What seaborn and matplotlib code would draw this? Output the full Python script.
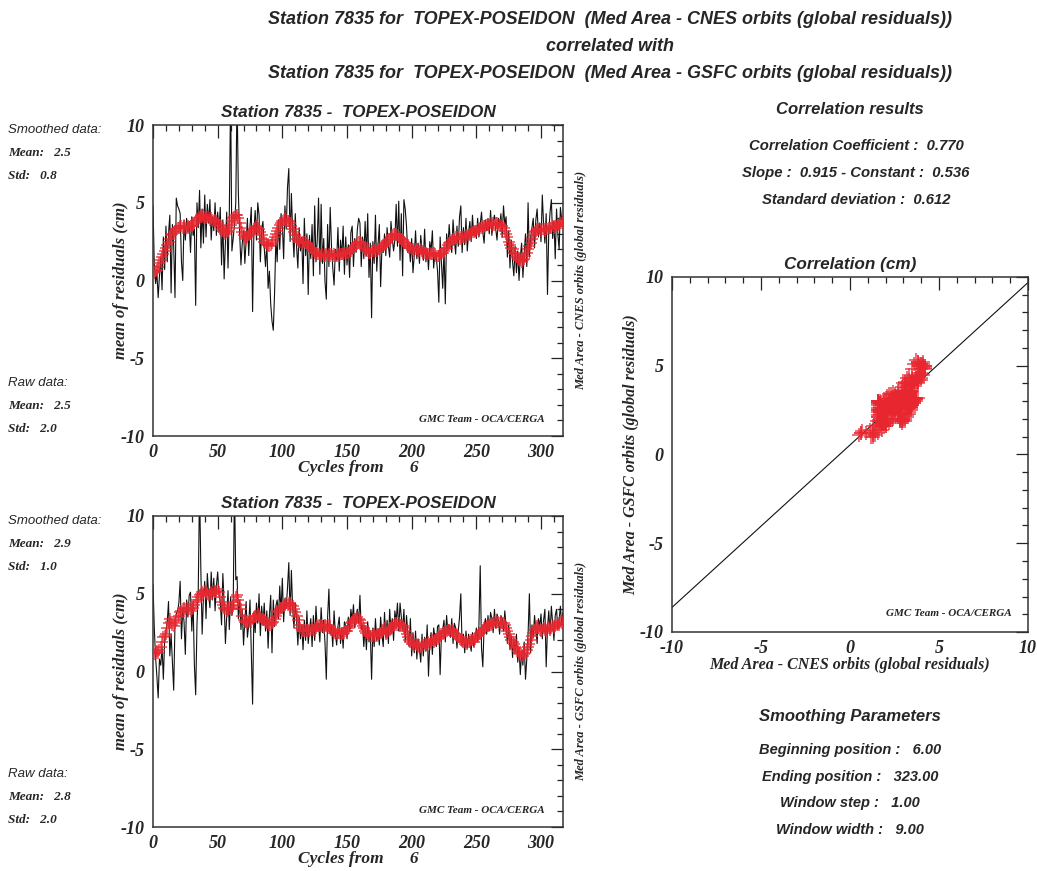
import numpy as np
import pandas as pd
import matplotlib
matplotlib.use("Agg")
import matplotlib.pyplot as plt
from matplotlib.ticker import MultipleLocator
import seaborn as sns

# ---------------- data ----------------
cycles_start = 6
cycles_end = 323

cnes_raw = [
    4.8, 1.0, -0.2, 0.5, -1.1, 0.3, 1.5, -0.6, 2.8, 0.7,
    3.5, 1.2, 3.0, 4.2, -0.8, 3.6, 2.2, -1.1, 5.3, 4.8,
    4.6, 4.3, 1.2, 0.0, 3.9, 2.6, 4.0, 3.1, 3.8, 1.8,
    4.1, 2.9, 3.3, -1.6, 5.0, 3.4, 5.8, 2.1, 4.6, 2.4,
    5.5, 2.8, 4.9, 3.7, 5.2, 2.6, 4.1, 3.2, 5.0, 2.9,
    4.4, 3.1, 4.7, 1.0, 3.9, 0.1, 2.5, 4.4, 0.8, 4.3,
    12.0, 1.9, 2.7, 3.6, 5.0, 12.0, 5.6, 3.0, 1.0, 2.4,
    3.2, 1.1, 2.6, 4.0, 1.6, 3.5, 4.7, -2.0, 3.1, 4.5,
    2.6, 5.0, 4.2, 1.2, 3.3, 3.8, 2.1, 0.9, 2.4, -0.5,
    0.6, -1.5, -2.6, -3.2, -0.8, 2.7, 1.2, 3.9, 2.0, 4.3,
    3.6, 1.4, 4.8, 3.3, 6.0, 7.2, 2.5, 5.6, 3.1, 1.5,
    4.3, 2.2, 0.8, 3.4, 1.9, 2.8, -0.2, 4.0, 1.6, 3.0,
    -0.9, 2.9, 1.4, 3.6, 0.3, 4.8, 1.2, 2.6, 5.3, 0.4,
    4.9, 1.1, 2.7, -0.1, -1.2, 3.6, 0.9, 4.7, 2.2, 0.8,
    -0.3, 2.0, 1.3, 3.4, 0.6, 2.6, 1.5, 3.5, 0.4, 2.8,
    1.0, 2.3, 0.2, 3.1, 3.5, 0.9, 2.7, 1.8, 3.3, 4.0,
    3.7, 0.9, 2.8, 1.4, 3.8, 1.6, 4.3, 0.2, 2.4, -2.4,
    2.5, 1.1, 4.2, 0.6, 2.3, 3.6, -0.4, 2.1, 1.8, 3.0,
    1.6, 3.4, 2.2, 1.5, 3.8, 2.7, 1.9, 2.6, 4.9, 2.2,
    5.1, 1.3, 4.3, 0.3, 5.2, 4.6, 3.5, 1.8, 2.3, 1.2,
    2.7, 0.5, 1.6, 3.2, 1.4, 2.4, 1.1, 2.9, 1.9, 1.3,
    3.3, 1.2, 2.0, 0.7, 2.5, 1.9, 3.2, 0.8, 1.8, 1.5,
    0.6, -1.4, 2.8, 1.2, -0.5, 2.0, -1.5, 3.0, 2.1, 3.6,
    2.4, 1.8, 3.9, 2.6, 1.7, 3.5, 2.2, 4.1, 4.8, 1.8,
    3.4, 2.3, 4.0, 1.9, 3.1, 3.8, 2.5, 4.2, 2.9, 3.3,
    2.7, 4.0, 2.8, 3.6, 4.4, 3.1, 2.4, 3.9, 3.2, 4.0,
    3.0, 4.5, 2.9, 3.8, 4.2, 3.3, 2.6, 4.0, 3.5, 4.3,
    2.8, 4.8, 3.6, 4.1, 1.5, 3.2, 0.8, 2.6, 1.2, 0.3,
    2.2, 0.5, 1.9, 0.0, 1.5, 2.4, 0.2, 1.7, 3.0, 0.9,
    5.0, 1.5, 2.8, 3.4, 4.0, 2.1, 3.9, 4.6, 2.8, 3.7,
    2.5, 5.5, 3.6, 2.4, 4.3, -0.9, 3.1, 4.4, 5.2, 2.7,
    3.8, 1.4, 4.6, 3.0, 2.0, 4.7, 3.9, 4.1,
]

cnes_smooth = [
    0.6, 0.5, 0.6, 0.7, 0.9, 1.1, 1.3, 1.5, 1.7, 1.9,
    2.1, 2.3, 2.5, 2.7, 2.9, 3.0, 3.1, 3.2, 3.3, 3.4,
    3.4, 3.5, 3.5, 3.4, 3.5, 3.4, 3.4, 3.5, 3.4, 3.5,
    3.5, 3.6, 3.7, 3.8, 3.9, 4.0, 4.1, 4.2, 4.1, 4.2,
    4.1, 4.0, 4.1, 4.0, 3.9, 4.0, 3.9, 3.8, 3.9, 3.8,
    3.7, 3.6, 3.5, 3.3, 3.2, 3.1, 3.0, 3.1, 3.2, 3.4,
    3.6, 3.8, 4.0, 4.1, 4.2, 4.2, 4.0, 3.7, 3.4, 3.1,
    2.9, 2.8, 2.7, 2.8, 2.9, 3.0, 3.1, 3.2, 3.3, 3.4,
    3.5, 3.4, 3.3, 3.1, 2.9, 2.7, 2.5, 2.4, 2.3, 2.3,
    2.2, 2.3, 2.4, 2.6, 2.8, 3.0, 3.2, 3.4, 3.6, 3.7,
    3.8, 3.9, 4.0, 3.9, 3.8, 3.8, 3.7, 3.5, 3.3, 3.1,
    2.9, 2.7, 2.6, 2.5, 2.5, 2.4, 2.5, 2.5, 2.4, 2.4,
    2.3, 2.2, 2.1, 2.0, 1.9, 1.8, 1.8, 1.7, 1.7, 1.6,
    1.6, 1.7, 1.6, 1.6, 1.7, 1.6, 1.7, 1.6, 1.7, 1.6,
    1.7, 1.6, 1.6, 1.7, 1.6, 1.7, 1.7, 1.7, 1.8, 1.8,
    1.8, 1.8, 1.9, 1.9, 2.0, 2.1, 2.2, 2.3, 2.4, 2.5,
    2.5, 2.4, 2.3, 2.1, 2.0, 1.9, 1.9, 1.8, 1.8, 1.9,
    1.9, 2.0, 1.9, 1.9, 2.0, 2.0, 2.1, 2.2, 2.2, 2.3,
    2.4, 2.5, 2.6, 2.7, 2.8, 2.9, 3.0, 3.0, 2.9, 2.9,
    2.8, 2.7, 2.7, 2.6, 2.5, 2.4, 2.3, 2.2, 2.1, 2.1,
    2.0, 2.0, 1.9, 2.0, 2.0, 1.9, 1.9, 2.0, 1.9, 1.8,
    1.8, 1.8, 1.7, 1.7, 1.8, 1.7, 1.7, 1.8, 1.7, 1.6,
    1.6, 1.6, 1.7, 1.7, 1.8, 1.9, 2.0, 2.1, 2.3, 2.4,
    2.5, 2.6, 2.7, 2.7, 2.8, 2.8, 2.8, 2.7, 2.8, 2.8,
    2.8, 2.8, 2.9, 2.9, 2.9, 3.0, 3.0, 3.1, 3.1, 3.2,
    3.2, 3.3, 3.3, 3.4, 3.4, 3.4, 3.5, 3.5, 3.6, 3.6,
    3.6, 3.7, 3.6, 3.7, 3.6, 3.7, 3.7, 3.6, 3.6, 3.5,
    3.5, 3.4, 3.2, 3.0, 2.8, 2.5, 2.3, 2.1, 2.0, 1.8,
    1.7, 1.5, 1.4, 1.3, 1.3, 1.2, 1.3, 1.4, 1.6, 1.8,
    2.0, 2.2, 2.4, 2.7, 2.9, 3.1, 3.2, 3.3, 3.3, 3.3,
    3.2, 3.3, 3.3, 3.2, 3.3, 3.3, 3.4, 3.4, 3.4, 3.5,
    3.4, 3.5, 3.5, 3.6, 3.6, 3.7, 3.7, 3.8,
]

gsfc_raw = [
    5.6, 2.8, 0.9, -0.3, -1.7, 0.8, 0.4, 1.6, -0.5, 2.0,
    2.6, 3.2, 4.5, 1.0, 2.4, 0.6, -1.2, 3.1, 3.7, 3.9,
    4.4, 5.8, 2.1, 4.0, 3.2, 1.1, 4.6, 3.5, 4.9, 5.1,
    2.6, 4.5, 0.4, -1.5, 3.0, 5.3, 12.0, 6.5, 2.4, 4.8,
    5.8, 3.4, 6.3, 5.0, 4.1, 6.4, 4.6, 6.0, 3.9, 5.5,
    6.4, 5.0, 4.5, 3.0, 6.3, 4.4, 1.8, 3.6, 5.2, 2.7,
    4.8, 3.6, 4.2, 12.0, 5.9, 6.1, 3.4, 4.6, 2.7, 4.0,
    1.7, 3.3, 4.5, 2.2, 3.0, 4.6, 1.2, -2.1, 3.8, 2.5,
    4.4, 3.1, 5.0, 2.3, 4.2, 3.0, 4.4, 2.6, 3.9, 1.5,
    3.6, 4.9, 1.2, 4.6, 2.9, 4.2, 4.6, 3.4, 5.5, 3.8,
    6.0, 3.2, 4.7, 4.1, 5.4, 7.0, 3.6, 6.5, 4.0, 2.8,
    4.4, 3.3, 1.7, 3.5, 2.1, 3.0, 1.4, 3.3, 2.0, 3.9,
    1.8, 2.7, 3.4, 1.6, 3.6, 2.0, 4.2, 2.7, 3.1, 1.9,
    4.1, 2.5, 3.3, 1.8, -0.5, 3.5, 5.3, 2.4, 3.0, 1.6,
    3.9, 2.4, 1.7, 2.9, 3.5, 1.8, 2.8, 1.5, 3.2, 2.9,
    2.1, 3.5, 2.6, 4.0, 3.3, 4.3, 2.8, 3.6, 4.0, 3.1,
    4.9, 2.7, 3.0, 1.6, 2.9, 1.4, 3.2, 1.9, 2.6, -0.5,
    2.8, 1.6, 3.4, 2.0, 2.7, 1.7, 3.5, 2.4, 1.6, 3.8,
    2.2, 3.3, 1.8, 4.0, 2.5, 3.4, 2.0, 3.9, 3.2, 4.4,
    2.6, 4.4, 3.5, 2.7, 4.0, 1.9, 3.6, 2.5, 1.6, 3.4,
    1.0, 2.5, 1.2, 2.6, 0.8, 2.1, 1.5, 0.6, 2.4, 1.0,
    2.2, 1.3, 3.0, -0.3, 1.9, 2.5, 1.1, 2.8, 2.2, 1.6,
    2.9, 3.0, -0.2, 2.4, 2.7, 3.3, 1.9, 3.6, 2.5, 3.0,
    2.2, 3.4, 1.8, 3.1, 2.8, 1.5, 2.6, 3.5, 5.0, 1.6,
    2.4, 1.2, 2.6, 1.5, 2.4, 1.9, 1.3, 2.5, 1.6, 2.0,
    2.8, 1.9, 3.0, 6.8, 1.5, 0.3, 2.9, 3.4, 2.4, 3.6,
    2.6, 3.8, 3.4, 2.5, 4.0, 2.8, 3.7, 3.3, 2.4, 3.6,
    3.4, 2.6, 3.9, 2.9, 1.8, 3.0, 1.4, 2.3, 0.9, 2.1,
    1.2, 2.4, 0.6, 1.5, -0.2, 1.3, 0.4, 1.9, -0.5, 0.8,
    2.4, 5.0, 1.2, 3.0, 2.2, 3.6, 2.7, 1.8, 3.4, 2.9,
    3.7, 2.1, 3.3, 4.0, 0.3, 2.8, 3.9, 2.4, 4.2, 3.1,
    2.0, 3.6, 4.0, 2.7, 3.3, 4.2, 3.0, 3.8,
]

gsfc_smooth = [
    1.2, 1.1, 1.2, 1.3, 1.2, 1.4, 1.6, 1.9, 2.2, 2.3,
    2.4, 2.8, 3.1, 3.4, 3.2, 3.0, 2.9, 3.1, 3.3, 3.5,
    3.6, 3.8, 3.9, 4.0, 4.1, 4.0, 4.1, 4.0, 4.0, 3.9,
    4.0, 4.1, 4.3, 4.5, 4.6, 4.8, 4.9, 5.0, 5.1, 5.0,
    5.2, 5.1, 5.0, 4.9, 5.0, 5.1, 5.0, 5.2, 5.1, 5.2,
    5.3, 5.1, 4.8, 4.5, 4.3, 4.1, 4.0, 3.9, 4.0, 4.0,
    4.1, 4.0, 4.2, 4.5, 4.8, 4.9, 4.6, 4.3, 4.0, 3.6,
    3.3, 3.2, 3.2, 3.1, 3.2, 3.3, 3.2, 3.4, 3.5, 3.6,
    3.6, 3.7, 3.6, 3.5, 3.4, 3.3, 3.3, 3.2, 3.1, 3.1,
    3.0, 3.0, 3.1, 3.2, 3.4, 3.6, 3.8, 3.9, 4.0, 4.1,
    4.1, 4.2, 4.3, 4.4, 4.3, 4.4, 4.4, 4.3, 4.2, 4.0,
    3.8, 3.6, 3.3, 3.0, 2.8, 2.7, 2.6, 2.6, 2.6, 2.7,
    2.7, 2.6, 2.7, 2.8, 2.7, 2.6, 2.8, 2.9, 3.0, 2.9,
    3.0, 2.9, 2.8, 3.0, 2.9, 3.0, 2.8, 2.9, 2.7, 2.6,
    2.6, 2.5, 2.4, 2.5, 2.5, 2.4, 2.5, 2.4, 2.5, 2.6,
    2.6, 2.8, 2.9, 3.1, 3.2, 3.3, 3.4, 3.4, 3.5, 3.4,
    3.3, 3.1, 2.9, 2.8, 2.6, 2.5, 2.4, 2.4, 2.3, 2.3,
    2.3, 2.4, 2.3, 2.3, 2.4, 2.4, 2.5, 2.6, 2.7, 2.8,
    2.4, 2.5, 2.6, 2.7, 2.8, 2.9, 3.0, 3.1, 3.1, 3.0,
    3.1, 3.0, 3.0, 2.9, 2.8, 2.6, 2.4, 2.2, 2.0, 1.9,
    1.8, 1.8, 1.7, 1.8, 1.7, 1.6, 1.7, 1.6, 1.7, 1.7,
    1.8, 1.8, 1.7, 1.9, 1.8, 1.9, 2.0, 1.9, 2.0, 2.1,
    2.1, 2.2, 2.3, 2.4, 2.5, 2.5, 2.6, 2.6, 2.7, 2.7,
    2.6, 2.7, 2.6, 2.5, 2.4, 2.3, 2.2, 2.1, 2.0, 2.0,
    1.9, 1.9, 1.9, 1.8, 1.9, 1.9, 2.0, 2.0, 1.9, 2.1,
    2.2, 2.3, 2.4, 2.5, 2.6, 2.7, 2.8, 2.8, 2.9, 2.9,
    3.0, 3.0, 3.1, 3.1, 3.2, 3.1, 3.2, 3.2, 3.1, 3.2,
    3.1, 3.1, 3.0, 2.8, 2.6, 2.4, 2.2, 2.0, 1.9, 1.8,
    1.6, 1.5, 1.3, 1.2, 1.1, 1.0, 1.0, 1.1, 1.2, 1.4,
    1.6, 1.8, 2.0, 2.3, 2.5, 2.7, 2.8, 2.9, 2.8, 2.7,
    2.6, 2.7, 2.8, 2.7, 2.6, 2.7, 2.8, 2.7, 2.8, 2.9,
    2.8, 2.9, 3.0, 3.1, 3.0, 3.2, 3.1, 3.2,
]

stats_top = {"smooth_mean": "2.5", "smooth_std": "0.8", "raw_mean": "2.5", "raw_std": "2.0"}
stats_bot = {"smooth_mean": "2.9", "smooth_std": "1.0", "raw_mean": "2.8", "raw_std": "2.0"}
corr_coef = 0.770
slope = 0.915
constant = 0.536
std_dev = 0.612
smooth_params = [("Beginning position :", "6.00"), ("Ending position :", "323.00"),
                 ("Window step :", "1.00"), ("Window width :", "9.00")]

n = cycles_end - cycles_start + 1
for arr in (cnes_raw, cnes_smooth, gsfc_raw, gsfc_smooth):
    assert len(arr) == n, len(arr)
cycle_idx = np.arange(n)

# ---------------- style ----------------
sns.set_style("white")
plt.rcParams["axes.unicode_minus"] = False
SERIF = ["Liberation Serif", "DejaVu Serif"]
SANS = ["Liberation Sans", "DejaVu Sans"]
RED = "#e8262f"

fig = plt.figure(figsize=(10.37, 8.71), dpi=100)
W, H = 1037.0, 871.0


def ax_rect(l, t, r, b):
    return [l / W, 1 - b / H, (r - l) / W, (b - t) / H]


def style_axes(ax, xmaj, xmin, ymaj, ymin):
    ax.xaxis.set_major_locator(MultipleLocator(xmaj))
    ax.xaxis.set_minor_locator(MultipleLocator(xmin))
    ax.yaxis.set_major_locator(MultipleLocator(ymaj))
    ax.yaxis.set_minor_locator(MultipleLocator(ymin))
    ax.tick_params(which="both", direction="in", top=True, right=True,
                   color="#222222", width=0.9)
    ax.tick_params(which="major", length=9, pad=6)
    ax.tick_params(which="minor", length=4.5)
    for s in ax.spines.values():
        s.set_color("#333333")
        s.set_linewidth(1.1)
    for lab in ax.get_xticklabels() + ax.get_yticklabels():
        lab.set_family(SERIF)
        lab.set_weight("bold")
        lab.set_style("italic")
        lab.set_fontsize(13)
    ax.set_xlabel("")
    ax.set_ylabel("")


def time_panel(rect, raw, smooth, right_label, top_px, stats):
    ax = fig.add_axes(rect)
    df = pd.DataFrame({"cycle": cycle_idx, "raw": raw, "smooth": smooth})
    sns.lineplot(data=df, x="cycle", y="raw", ax=ax, color="#111111", lw=0.8)
    sns.scatterplot(data=df, x="cycle", y="smooth", ax=ax, marker="+",
                    color=RED, s=80, linewidth=1.1, alpha=0.85, zorder=3)
    ax.set_xlim(0, n - 1)
    ax.set_ylim(-10, 10)
    style_axes(ax, 50, 10, 5, 1)
    ax.set_title("Station 7835 -  TOPEX-POSEIDON", family=SANS, weight="bold",
                 style="italic", fontsize=12.3, pad=6)
    ax.set_xlabel("Cycles from      %d" % cycles_start, family=SERIF, weight="bold",
                  style="italic", fontsize=12.5, labelpad=-1)
    ax.set_ylabel("mean of residuals (cm)", family=SERIF, weight="bold",
                  style="italic", fontsize=12, labelpad=-6)
    ax.text(1.045, 0.5, right_label, transform=ax.transAxes, rotation=90,
            ha="center", va="center", family=SERIF, weight="bold",
            style="italic", fontsize=9)
    ax.text(0.955, 0.04, "GMC Team - OCA/CERGA", transform=ax.transAxes,
            ha="right", va="bottom", family=SERIF, weight="bold",
            style="italic", fontsize=8)
    # left side statistics
    kw_s = dict(family=SANS, style="italic", fontsize=9.5, ha="left", va="center")
    kw_n = dict(family=SERIF, weight="bold", style="italic", fontsize=9.5,
                ha="left", va="center")
    fig.text(8 / W, 1 - (top_px + 5) / H, "Smoothed data:", **kw_s)
    fig.text(8 / W, 1 - (top_px + 28) / H, "Mean:   %s" % stats["smooth_mean"], **kw_n)
    fig.text(8 / W, 1 - (top_px + 51) / H, "Std:   %s" % stats["smooth_std"], **kw_n)
    fig.text(8 / W, 1 - (top_px + 258) / H, "Raw data:", **kw_s)
    fig.text(8 / W, 1 - (top_px + 281) / H, "Mean:   %s" % stats["raw_mean"], **kw_n)
    fig.text(8 / W, 1 - (top_px + 304) / H, "Std:   %s" % stats["raw_std"], **kw_n)
    return ax


time_panel(ax_rect(153, 125, 563, 436), cnes_raw, cnes_smooth,
           "Med Area - CNES orbits (global residuals)", 125, stats_top)
time_panel(ax_rect(153, 516, 563, 827), gsfc_raw, gsfc_smooth,
           "Med Area - GSFC orbits (global residuals)", 516, stats_bot)

# ---------------- correlation scatter ----------------
axc = fig.add_axes(ax_rect(672, 277, 1028, 632))
dfc = pd.DataFrame({"cnes": cnes_smooth, "gsfc": gsfc_smooth})
line_x = np.array([-10.0, 10.0])
sns.lineplot(x=line_x, y=slope * line_x + constant, ax=axc, color="#111111", lw=0.8)
sns.scatterplot(data=dfc, x="cnes", y="gsfc", ax=axc, marker="+", color=RED,
                s=100, linewidth=1.1, alpha=0.85, zorder=3)
axc.set_xlim(-10, 10)
axc.set_ylim(-10, 10)
style_axes(axc, 5, 1, 5, 1)
axc.set_title("Correlation (cm)", family=SANS, weight="bold", style="italic",
              fontsize=12.3, pad=6)
axc.set_xlabel("Med Area - CNES orbits (global residuals)", family=SERIF,
               weight="bold", style="italic", fontsize=11.5, labelpad=0)
axc.set_ylabel("Med Area - GSFC orbits (global residuals)", family=SERIF,
               weight="bold", style="italic", fontsize=11.5, labelpad=0)
axc.text(0.955, 0.04, "GMC Team - OCA/CERGA", transform=axc.transAxes,
         ha="right", va="bottom", family=SERIF, weight="bold",
         style="italic", fontsize=8)

# ---------------- text blocks ----------------
kw_t = dict(family=SANS, weight="bold", style="italic", ha="center", va="center")
title_lines = [
    "Station 7835 for  TOPEX-POSEIDON  (Med Area - CNES orbits (global residuals))",
    "correlated with",
    "Station 7835 for  TOPEX-POSEIDON  (Med Area - GSFC orbits (global residuals))",
]
for i, line in enumerate(title_lines):
    fig.text(610 / W, 1 - (20 + 26.5 * i) / H, line, fontsize=13, **kw_t)

cx = 850 / W
fig.text(cx, 1 - 110 / H, "Correlation results", fontsize=12, **kw_t)
res_lines = ["Correlation Coefficient :  %.3f" % corr_coef,
             "Slope :  %.3f - Constant :  %.3f" % (slope, constant),
             "Standard deviation :  %.3f" % std_dev]
for i, line in enumerate(res_lines):
    fig.text(cx + 6 / W, 1 - (146 + 27 * i) / H, line, fontsize=10.7, **kw_t)

fig.text(cx, 1 - 716 / H, "Smoothing Parameters", fontsize=12, **kw_t)
for i, (lab, val) in enumerate(smooth_params):
    fig.text(cx, 1 - (750 + 26.7 * i) / H, "%s   %s" % (lab, val), fontsize=10.5, **kw_t)

fig.savefig("out.png", dpi=100, facecolor="white")
